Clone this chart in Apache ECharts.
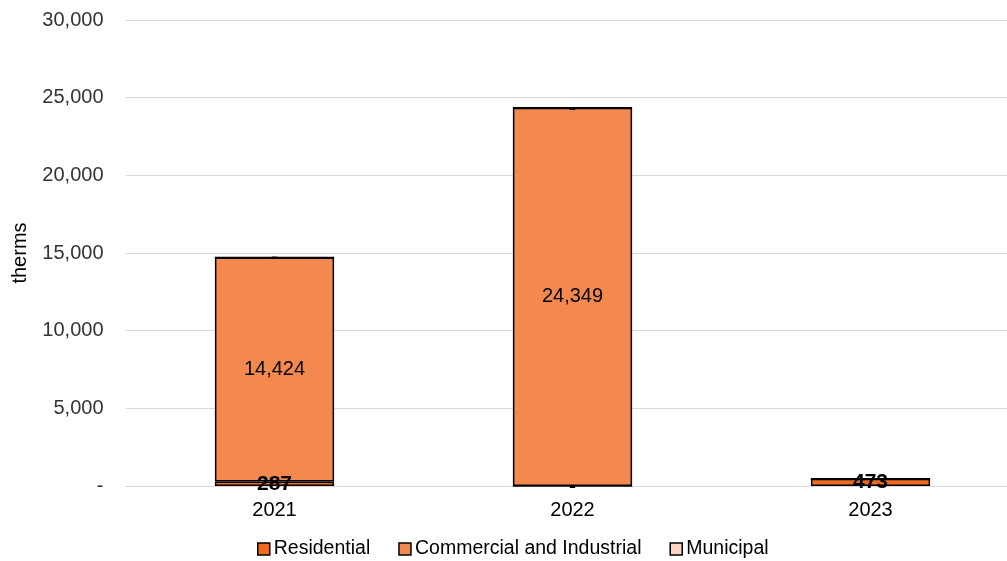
<!DOCTYPE html>
<html>
<head>
<meta charset="utf-8">
<script src="https://cdn.jsdelivr.net/npm/echarts@6/dist/echarts.min.js"></script>
<style>html,body{margin:0;padding:0;background:#fff}#c{width:1007px;height:561px}</style>
</head>
<body>
<div id="c"></div>
<script>
const categories = ['2021', '2022', '2023'];
const residential = [287, 0, 473];
const commercialIndustrial = [14424, 24349, 0];
const municipal = [0, 0, 0];
const yTicks = [0, 5000, 10000, 15000, 20000, 25000, 30000];

const fmt = v => (v === 0 ? '-' : Number(v).toLocaleString('en-US'));
const FONT = '"Liberation Sans", Arial, sans-serif';

const chart = echarts.init(document.getElementById('c'), null, {renderer: 'canvas'});
chart.setOption({
  animation: false,
  textStyle: {fontFamily: FONT},
  grid: {left: 125.5, right: -12.5, top: 20, bottom: 75, containLabel: false, outerBoundsMode: 'none'},
  legend: {
    bottom: -3, left: 252,
    icon: 'rect',
    itemWidth: 12, itemHeight: 12, itemGap: 28,
    textStyle: {fontFamily: FONT, fontSize: 19.5, color: '#000', padding: [0, 0, 0, -1]},
    itemStyle: {borderColor: '#000', borderWidth: 1.5},
    data: ['Residential', 'Commercial and Industrial', 'Municipal']
  },
  xAxis: {
    type: 'category', data: categories,
    axisLine: {lineStyle: {color: '#d9d9d9', width: 1}},
    axisTick: {show: false},
    axisLabel: {color: '#000', fontSize: 20, fontFamily: FONT, margin: 14}
  },
  yAxis: {
    type: 'value', min: yTicks[0], max: yTicks[yTicks.length - 1], interval: yTicks[1] - yTicks[0],
    name: 'therms', nameLocation: 'middle', nameGap: 95,
    nameTextStyle: {color: '#000', fontSize: 20, fontFamily: FONT},
    axisLine: {show: false}, axisTick: {show: false},
    axisLabel: {color: '#333', fontSize: 20, fontFamily: FONT, margin: 22, formatter: fmt},
    splitLine: {lineStyle: {color: '#d9d9d9', width: 1}}
  },
  series: [
    {
      name: 'Residential', type: 'bar', stack: 't', data: residential, barWidth: '40%',
      itemStyle: {color: '#EE6A1E', borderColor: '#000', borderWidth: 1.5},
      label: {show: true, position: 'inside', color: '#000', fontSize: 21, fontWeight: 'bold', fontFamily: FONT,
        formatter: p => fmt(p.value)}
    },
    {
      name: 'Commercial and Industrial', type: 'bar', stack: 't', data: commercialIndustrial,
      itemStyle: {color: '#F4894F', borderColor: '#000', borderWidth: 1.5},
      label: {show: true, position: 'inside', color: '#000', fontSize: 20, fontFamily: FONT,
        formatter: p => (p.value === 0 ? '' : fmt(p.value))}
    },
    {
      name: 'Municipal', type: 'bar', stack: 't', data: municipal,
      itemStyle: {color: '#FAD3C2', borderColor: '#000', borderWidth: 1.5},
      label: {show: true, position: 'inside', color: '#000', fontSize: 21, fontWeight: 'bold', fontFamily: FONT,
        formatter: p => (p.dataIndex === 2 ? '' : fmt(p.value))}
    }
  ]
});
</script>
</body>
</html>
